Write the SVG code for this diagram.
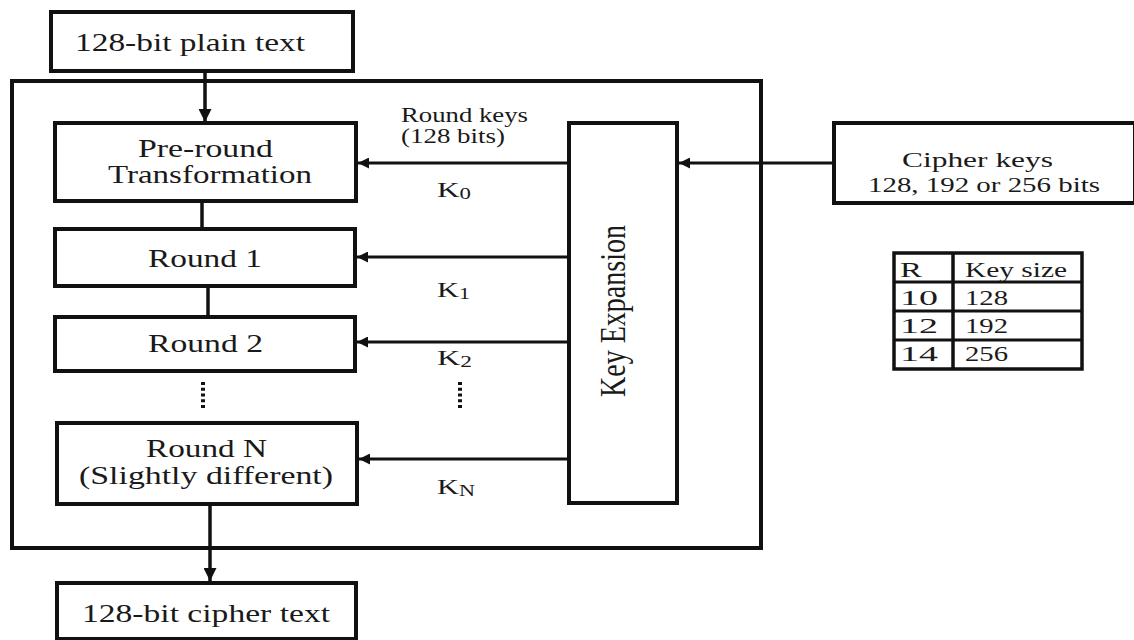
<svg xmlns="http://www.w3.org/2000/svg" width="1134" height="640" viewBox="0 0 1134 640">
<style>
  text { font-family: "Liberation Serif", "Times New Roman", serif; fill: #1a1a1a; }
  .big { font-size: 25px; }
  .mid { font-size: 20px; }
  .tbl { font-size: 21px; }
  .box { fill: #fff; stroke: #111; stroke-width: 4; }
  .ln { stroke: #111; stroke-width: 3.5; fill: none; }
  .thin { stroke: #111; stroke-width: 3; fill: none; }
  .dots { stroke: #111; stroke-width: 4; stroke-dasharray: 3 2.75; fill: none; }
</style>
<defs>
  <marker id="ah" viewBox="0 0 10 10" refX="10" refY="5" markerWidth="11" markerHeight="11" markerUnits="userSpaceOnUse" orient="auto">
    <path d="M0,0 L10,5 L0,10 z" fill="#111"/>
  </marker>
  <marker id="ahv" viewBox="0 0 10 10" refX="10" refY="5" markerWidth="13" markerHeight="13" markerUnits="userSpaceOnUse" orient="auto">
    <path d="M0,0 L10,5 L0,10 z" fill="#111"/>
  </marker>
</defs>
<rect width="1134" height="640" fill="#fff"/>

<g id="outer">
  <rect x="12" y="81" width="749" height="467" class="box" fill="none" style="fill:none"/>
</g>

<g id="connectors">
  <line x1="205" y1="71" x2="205" y2="122" class="ln" marker-end="url(#ahv)"/>
  <line x1="202" y1="201" x2="202" y2="229" class="ln"/>
  <line x1="208" y1="286" x2="208" y2="317" class="ln"/>
  <line x1="210" y1="506" x2="210" y2="581" class="ln" marker-end="url(#ahv)"/>
  <line x1="569" y1="163" x2="358" y2="163" class="thin" marker-end="url(#ah)"/>
  <line x1="569" y1="257" x2="357" y2="257" class="thin" marker-end="url(#ah)"/>
  <line x1="569" y1="342" x2="357" y2="342" class="thin" marker-end="url(#ah)"/>
  <line x1="569" y1="459" x2="359" y2="459" class="thin" marker-end="url(#ah)"/>
  <line x1="834" y1="163" x2="679" y2="163" class="thin" marker-end="url(#ah)"/>
  <line x1="203" y1="382" x2="203" y2="408" class="dots"/>
  <line x1="460" y1="382" x2="460" y2="408" class="dots"/>
</g>

<g id="plaintext">
  <rect x="51" y="12" width="302" height="59" class="box"/>
  <text x="75" y="51" class="big" textLength="230" lengthAdjust="spacingAndGlyphs">128-bit plain text</text>
</g>

<g id="preround">
  <rect x="55" y="123" width="301" height="78" class="box"/>
  <text x="138" y="157" class="big" textLength="135" lengthAdjust="spacingAndGlyphs">Pre-round</text>
  <text x="108" y="183" class="big" textLength="204" lengthAdjust="spacingAndGlyphs">Transformation</text>
</g>

<g id="round1">
  <rect x="55" y="229" width="300" height="57" class="box"/>
  <text x="148" y="267" class="big" textLength="114" lengthAdjust="spacingAndGlyphs">Round 1</text>
</g>

<g id="round2">
  <rect x="55" y="317" width="300" height="54" class="box"/>
  <text x="148" y="352" class="big" textLength="115" lengthAdjust="spacingAndGlyphs">Round 2</text>
</g>

<g id="roundN">
  <rect x="57" y="423" width="300" height="81" class="box"/>
  <text x="146" y="457" class="big" textLength="121" lengthAdjust="spacingAndGlyphs">Round N</text>
  <text x="79" y="484" class="big" textLength="254" lengthAdjust="spacingAndGlyphs">(Slightly different)</text>
</g>

<g id="ciphertext">
  <rect x="57" y="583" width="299" height="56" class="box"/>
  <text x="82" y="622" class="big" textLength="248" lengthAdjust="spacingAndGlyphs">128-bit cipher text</text>
</g>

<g id="keyexp">
  <rect x="569" y="123" width="108" height="380" class="box"/>
  <g transform="translate(600,311) scale(1.3,1) rotate(-90)">
    <text x="0" y="19" text-anchor="middle" style="font-size:28px">Key Expansion</text>
  </g>
</g>

<g id="labels">
  <text x="401" y="122" class="mid" textLength="127" lengthAdjust="spacingAndGlyphs">Round keys</text>
  <text x="401" y="143" class="mid" textLength="104" lengthAdjust="spacingAndGlyphs">(128 bits)</text>
  <text x="437" y="197" style="font-size:22px" textLength="34" lengthAdjust="spacingAndGlyphs">K<tspan style="font-size:16px" dy="2">0</tspan></text>
  <text x="437" y="297" style="font-size:22px" textLength="33" lengthAdjust="spacingAndGlyphs">K<tspan style="font-size:16px" dy="2">1</tspan></text>
  <text x="437" y="365" style="font-size:22px" textLength="35" lengthAdjust="spacingAndGlyphs">K<tspan style="font-size:16px" dy="2">2</tspan></text>
  <text x="437" y="494" style="font-size:22px" textLength="38" lengthAdjust="spacingAndGlyphs">K<tspan style="font-size:16px" dy="2">N</tspan></text>
</g>

<g id="cipherkeys">
  <rect x="834" y="123" width="301" height="80" class="box"/>
  <text x="902" y="167" class="mid" textLength="151" lengthAdjust="spacingAndGlyphs">Cipher keys</text>
  <text x="868" y="192" class="mid" textLength="232" lengthAdjust="spacingAndGlyphs">128, 192 or 256 bits</text>
</g>

<g id="table">
  <rect x="894" y="253" width="188" height="116" fill="#fff" stroke="#111" stroke-width="3.5"/>
  <line x1="953" y1="253" x2="953" y2="369" stroke="#111" stroke-width="3.5"/>
  <line x1="894" y1="282" x2="1082" y2="282" stroke="#111" stroke-width="3"/>
  <line x1="894" y1="311" x2="1082" y2="311" stroke="#111" stroke-width="3"/>
  <line x1="894" y1="340" x2="1082" y2="340" stroke="#111" stroke-width="3"/>
  <text x="900" y="277" class="tbl" textLength="22" lengthAdjust="spacingAndGlyphs">R</text>
  <text x="965" y="277" class="tbl" textLength="102" lengthAdjust="spacingAndGlyphs">Key size</text>
  <text x="900" y="305" class="tbl" textLength="38" lengthAdjust="spacingAndGlyphs">10</text>
  <text x="965" y="305" class="tbl" textLength="43" lengthAdjust="spacingAndGlyphs">128</text>
  <text x="900" y="333" class="tbl" textLength="38" lengthAdjust="spacingAndGlyphs">12</text>
  <text x="965" y="333" class="tbl" textLength="43" lengthAdjust="spacingAndGlyphs">192</text>
  <text x="900" y="361" class="tbl" textLength="38" lengthAdjust="spacingAndGlyphs">14</text>
  <text x="965" y="361" class="tbl" textLength="43" lengthAdjust="spacingAndGlyphs">256</text>
</g>
</svg>
